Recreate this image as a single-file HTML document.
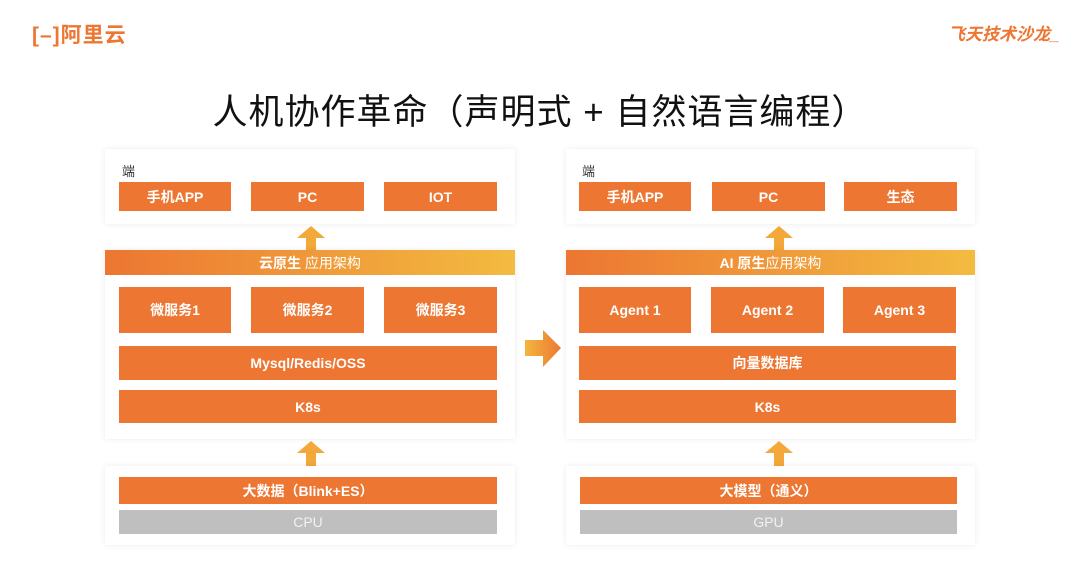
<!DOCTYPE html>
<html><head><meta charset="utf-8"><style>
body{margin:0;width:1080px;height:583px;background:#fff;position:relative;overflow:hidden;font-family:"Liberation Sans","Noto Sans CJK SC",sans-serif}
.a{position:absolute;box-sizing:border-box}
.box{background:#fff;box-shadow:0 0 6px rgba(0,0,0,.08)}
.o{background:#ec7632;color:#fff;font-weight:bold;font-size:14px;display:flex;align-items:center;justify-content:center}
.g{background:#bfbfbf;color:#f2f2f2;font-size:14px;display:flex;align-items:center;justify-content:center}
.h{background:linear-gradient(90deg,#ec7632,#f3bb40);color:#fff;font-size:14px;display:flex;align-items:center;justify-content:center}
.lab{font-size:13px;color:#333}
</style></head><body>
<div class="a" style="left:32px;top:19px;color:#ec7632;font-size:21px;font-weight:bold;letter-spacing:1px">[–]阿里云</div>
<div class="a" style="left:948px;top:20px;color:#ec7632;font-size:17px;font-weight:bold;font-style:italic">飞天技术沙龙_</div>
<div class="a" style="left:0;width:1080px;top:84px;text-align:center;font-size:35px;letter-spacing:1px;color:#111">人机协作革命（声明式 + 自然语言编程）</div>

<!-- left -->
<div class="a box" style="left:105px;top:149px;width:410px;height:75px"></div>
<div class="a lab" style="left:122px;top:161px">端</div>
<div class="a o" style="left:119px;top:182px;width:112px;height:29px">手机APP</div>
<div class="a o" style="left:251px;top:182px;width:113px;height:29px">PC</div>
<div class="a o" style="left:384px;top:182px;width:113px;height:29px">IOT</div>
<svg class="a" style="left:296px;top:226px" width="30" height="24"><polygon points="15,0 29,12 20,12 20,24 10,24 10,12 1,12" fill="#f3a83a"/></svg>
<div class="a box" style="left:105px;top:250px;width:410px;height:189px"></div>
<div class="a h" style="left:105px;top:250px;width:410px;height:25px"><b>云原生</b>&nbsp;应用架构</div>
<div class="a o" style="left:119px;top:287px;width:112px;height:46px">微服务1</div>
<div class="a o" style="left:251px;top:287px;width:113px;height:46px">微服务2</div>
<div class="a o" style="left:384px;top:287px;width:113px;height:46px">微服务3</div>
<div class="a o" style="left:119px;top:346px;width:378px;height:34px">Mysql/Redis/OSS</div>
<div class="a o" style="left:119px;top:390px;width:378px;height:33px">K8s</div>
<svg class="a" style="left:296px;top:441px" width="30" height="25"><polygon points="15,0 29,12 20,12 20,25 10,25 10,12 1,12" fill="#f3a83a"/></svg>
<div class="a box" style="left:105px;top:466px;width:410px;height:79px"></div>
<div class="a o" style="left:119px;top:477px;width:378px;height:27px">大数据（Blink+ES）</div>
<div class="a g" style="left:119px;top:510px;width:378px;height:24px">CPU</div>

<svg class="a" style="left:525px;top:330px" width="36" height="37"><defs><linearGradient id="ga"><stop offset="0" stop-color="#f3b540"/><stop offset="1" stop-color="#ec7a32"/></linearGradient></defs><polygon points="0,10 18,10 18,0 36,18 18,37 18,26 0,26" fill="url(#ga)"/></svg>

<!-- right -->
<div class="a box" style="left:566px;top:149px;width:409px;height:75px"></div>
<div class="a lab" style="left:582px;top:161px">端</div>
<div class="a o" style="left:579px;top:182px;width:112px;height:29px">手机APP</div>
<div class="a o" style="left:712px;top:182px;width:113px;height:29px">PC</div>
<div class="a o" style="left:844px;top:182px;width:113px;height:29px">生态</div>
<svg class="a" style="left:764px;top:226px" width="30" height="24"><polygon points="15,0 29,12 20,12 20,24 10,24 10,12 1,12" fill="#f3a83a"/></svg>
<div class="a box" style="left:566px;top:250px;width:409px;height:189px"></div>
<div class="a h" style="left:566px;top:250px;width:409px;height:25px"><b>AI 原生</b>应用架构</div>
<div class="a o" style="left:579px;top:287px;width:112px;height:46px">Agent 1</div>
<div class="a o" style="left:711px;top:287px;width:113px;height:46px">Agent 2</div>
<div class="a o" style="left:843px;top:287px;width:113px;height:46px">Agent 3</div>
<div class="a o" style="left:579px;top:346px;width:377px;height:34px">向量数据库</div>
<div class="a o" style="left:579px;top:390px;width:377px;height:33px">K8s</div>
<svg class="a" style="left:764px;top:441px" width="30" height="25"><polygon points="15,0 29,12 20,12 20,25 10,25 10,12 1,12" fill="#f3a83a"/></svg>
<div class="a box" style="left:566px;top:466px;width:409px;height:79px"></div>
<div class="a o" style="left:580px;top:477px;width:377px;height:27px">大模型（通义）</div>
<div class="a g" style="left:580px;top:510px;width:377px;height:24px">GPU</div>
</body></html>
